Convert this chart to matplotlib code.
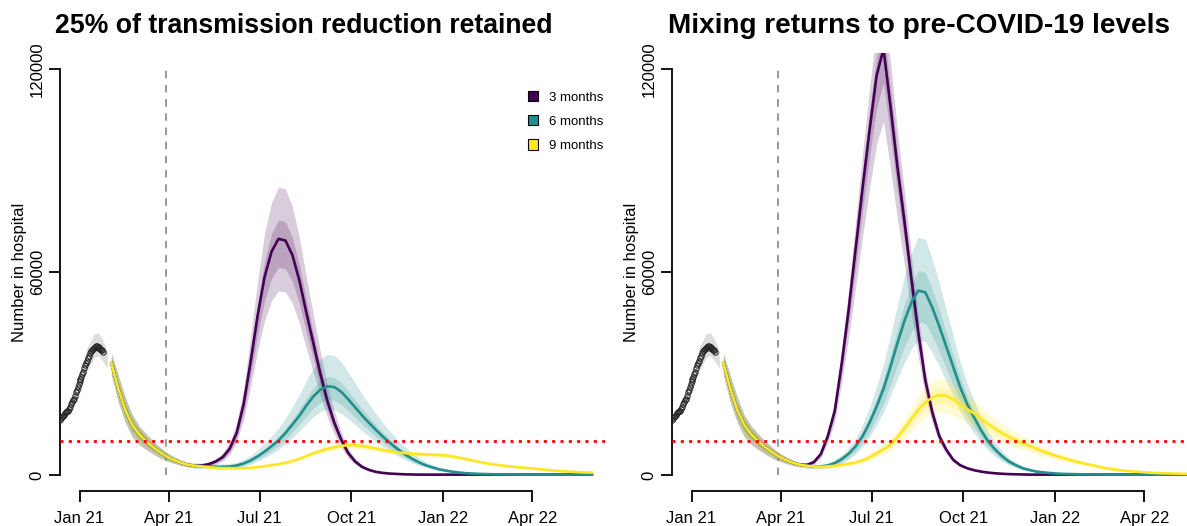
import matplotlib
matplotlib.use('Agg')
import matplotlib.pyplot as plt
import matplotlib.dates as mdates
from matplotlib.patches import Patch
import numpy as np
import pandas as pd

plt.rcParams['font.family'] = ['Liberation Sans', 'DejaVu Sans']

titles = ['25% of transmission reduction retained', 'Mixing returns to pre-COVID-19 levels']
scenarios = ['3 months', '6 months', '9 months']
colors = ['#440154', '#21908C', '#FDE725']
tick_dates = ['2021-01-01', '2021-04-01', '2021-07-01', '2021-10-01', '2022-01-01', '2022-04-01']
tick_labels = ['Jan 21', 'Apr 21', 'Jul 21', 'Oct 21', 'Jan 22', 'Apr 22']
y_ticks = [0, 60000, 120000]
threshold = 10000
step_date = '2021-03-29'

# observed patients in hospital (thousands), daily from 12 Dec 2020
obs_start = '2020-12-12'
obs_values = [16.3, 16.7, 17.0, 17.4, 17.8, 18.2, 18.6, 18.8, 19.0, 19.6,
              20.2, 20.9, 21.5, 22.2, 22.6, 23.4, 24.4, 25.2, 26.0, 26.9,
              27.8, 28.4, 29.0, 29.8, 30.5, 31.5, 32.4, 33.2, 33.7, 34.5,
              35.3, 36.0, 36.5, 36.8, 37.3, 37.5, 37.9, 38.2, 38.0, 37.6,
              37.8, 37.3, 37.0, 36.9, 36.4]

# model fit interval around the observed data (thousands)
fit_dates = ['2020-12-12', '2020-12-19', '2020-12-26', '2021-01-02', '2021-01-09',
             '2021-01-16', '2021-01-20', '2021-01-24', '2021-01-29']
fit_lower = [15.6, 17.6, 21.2, 26.0, 31.0, 34.8, 35.2, 33.8, 31.5]
fit_upper = [17.0, 19.8, 24.8, 31.0, 38.0, 41.8, 42.0, 40.2, 36.5]

# projections (thousands), weekly from 2 Feb 2021; first 12 weeks shared
proj_start = '2021-02-02'
common_start = [33.0, 25.5, 19.2, 14.8, 12.0, 10.0, 8.2, 6.7, 5.4, 4.4, 3.6, 3.0]
common_outer_lo = [29.5, 21.5, 15.5, 11.3, 9.0, 7.5, 6.2, 5.0, 4.1, 3.4, 2.8, 2.4]
common_inner_lo = [31.5, 23.5, 17.3, 13.0, 10.5, 8.7, 7.2, 5.9, 4.8, 3.9, 3.2, 2.7]
common_inner_hi = [34.5, 27.5, 21.0, 16.5, 13.4, 11.2, 9.2, 7.5, 6.0, 4.9, 4.0, 3.3]
common_outer_hi = [36.0, 29.5, 23.0, 17.8, 14.5, 12.2, 10.0, 8.2, 6.6, 5.4, 4.4, 3.7]

left_3m = [2.7, 2.8, 3.2, 4.0, 5.3, 7.8, 12.5, 21.0, 33.5, 47.0,
           58.5, 66.0, 69.8, 69.3, 65.0, 57.5, 48.0, 39.0, 30.0, 22.0,
           15.5, 10.5, 6.5, 4.0, 2.4, 1.5, 0.9, 0.6, 0.4, 0.3,
           0.2, 0.15, 0.1, 0.1, 0.1, 0.1, 0.1, 0.1, 0.1, 0.1,
           0.1, 0.1, 0.1, 0.1, 0.1, 0.1, 0.1, 0.1, 0.1, 0.1,
           0.1, 0.1, 0.1, 0.1, 0.1, 0.1, 0.1, 0.1]
left_6m = [2.7, 2.6, 2.5, 2.4, 2.4, 2.5, 2.8, 3.4, 4.3, 5.5,
           6.9, 8.5, 10.2, 12.4, 14.9, 17.5, 20.5, 23.2, 25.2, 26.2,
           26.0, 24.6, 22.4, 20.0, 17.6, 15.4, 13.3, 11.3, 9.5, 7.8,
           6.3, 5.0, 3.9, 3.0, 2.3, 1.7, 1.3, 0.95, 0.7, 0.5,
           0.4, 0.3, 0.25, 0.2, 0.15, 0.15, 0.12, 0.12, 0.1, 0.1,
           0.1, 0.1, 0.1, 0.1, 0.1, 0.1, 0.1, 0.1]
left_9m = [2.7, 2.5, 2.3, 2.1, 2.0, 2.0, 2.0, 2.0, 2.1, 2.3,
           2.6, 2.9, 3.2, 3.6, 4.1, 4.8, 5.6, 6.4, 7.1, 7.7,
           8.2, 8.6, 8.8, 8.8, 8.6, 8.2, 7.8, 7.4, 7.0, 6.7,
           6.5, 6.3, 6.2, 6.1, 6.0, 5.9, 5.8, 5.5, 5.1, 4.7,
           4.2, 3.8, 3.4, 3.1, 2.8, 2.6, 2.4, 2.2, 2.0, 1.8,
           1.6, 1.4, 1.2, 1.05, 0.95, 0.85, 0.75, 0.7]

right_3m = [3.0, 3.8, 6.2, 11.5, 19.0, 33.0, 49.0, 67.0, 85.0, 102.0,
            118.0, 126.0, 109.0, 91.0, 75.0, 58.0, 42.0, 28.0, 18.5, 11.5,
            7.5, 4.5, 2.9, 2.0, 1.4, 1.0, 0.7, 0.5, 0.35, 0.25,
            0.2, 0.15, 0.1, 0.1, 0.1, 0.1, 0.1, 0.1, 0.1, 0.1,
            0.1, 0.1, 0.1, 0.1, 0.1, 0.1, 0.1, 0.1, 0.1, 0.1,
            0.1, 0.1, 0.1, 0.1, 0.1, 0.1, 0.1, 0.1]
right_6m = [2.7, 2.5, 2.5, 2.8, 3.5, 4.7, 6.3, 8.5, 11.5, 15.5,
            20.2, 25.5, 32.0, 39.0, 45.5, 51.0, 54.5, 54.0, 49.5, 44.0,
            38.0, 32.0, 26.0, 21.0, 17.0, 13.2, 10.0, 7.6, 5.6, 4.0,
            2.9, 2.0, 1.45, 1.0, 0.75, 0.55, 0.4, 0.3, 0.25, 0.2,
            0.15, 0.15, 0.12, 0.12, 0.1, 0.1, 0.1, 0.1, 0.1, 0.1,
            0.1, 0.1, 0.1, 0.1, 0.1, 0.1, 0.1, 0.1]
right_9m = [2.7, 2.5, 2.4, 2.5, 2.7, 3.0, 3.3, 3.7, 4.3, 5.2,
            6.4, 7.6, 9.0, 11.2, 13.8, 16.6, 19.2, 21.4, 22.9, 23.6,
            23.4, 22.3, 20.8, 19.5, 18.2, 16.6, 15.0, 13.7, 12.4, 11.3,
            10.3, 9.4, 8.6, 7.7, 6.9, 6.2, 5.5, 4.9, 4.3, 3.8,
            3.3, 2.9, 2.4, 2.0, 1.7, 1.4, 1.2, 1.0, 0.85, 0.7,
            0.6, 0.5, 0.45, 0.4, 0.35, 0.3, 0.3, 0.25]

# band edges relative to the median after the shared weeks, read at each peak:
# outer low, inner low, inner high, outer high
left_bands = [(0.78, 0.88, 1.08, 1.22), (0.74, 0.85, 1.11, 1.36), (0.88, 0.94, 1.05, 1.12)]
right_bands = [(0.83, 0.92, 1.05, 1.12), (0.73, 0.83, 1.11, 1.29), (0.79, 0.90, 1.09, 1.21)]

W, H = 1187, 526
fig = plt.figure(figsize=(W / 100, H / 100), dpi=100)

jan1 = mdates.date2num(pd.Timestamp('2021-01-01'))
tick_nums = mdates.date2num(pd.to_datetime(tick_dates))
step_num = mdates.date2num(pd.Timestamp(step_date))
obs_x = pd.date_range(obs_start, periods=len(obs_values), freq='D')
fit_x = pd.to_datetime(fit_dates)
common_bands = [common_outer_lo, common_inner_lo, common_inner_hi, common_outer_hi]

panels = [
    (60, 55, 19.15, titles[0], [left_3m, left_6m, left_9m], left_bands, True),
    (672, 668, 20.1, titles[1], [right_3m, right_6m, right_9m], right_bands, False),
]

for x0, tx, tsize, title, series, bands, show_legend in panels:
    ax = fig.add_axes([x0 / W, 1 - 491.2 / H, 550 / W, (491.2 - 52.8) / H])
    ax.set_xlim(jan1 - 19.6, jan1 + 533.2)
    ax.set_ylim(-4800, 124800)

    ax.fill_between(fit_x, np.array(fit_lower) * 1000, np.array(fit_upper) * 1000,
                    color='#bdbdbd', alpha=0.5, lw=0)
    ax.plot(obs_x, np.array(obs_values) * 1000, 'o', mfc='none', mec='#222222',
            ms=3.8, mew=0.75, zorder=4)

    for vals, col, ratios in zip(series, colors, bands):
        y = np.array(common_start + vals) * 1000
        x = pd.date_range(proj_start, periods=len(y), freq='7D')
        edges = [np.array(cb + list(np.array(vals) * r)) * 1000
                 for cb, r in zip(common_bands, ratios)]
        ax.fill_between(x, edges[0], edges[3], color=col, alpha=0.2, lw=0)
        ax.fill_between(x, edges[1], edges[2], color=col, alpha=0.2, lw=0)
        ax.plot(x, y, color=col, lw=1.9)

    ax.axhline(threshold, color='red', lw=2, ls=(0, (1.1, 1.9)), zorder=5)
    ax.plot([step_num, step_num], [0, 120000], color='#888888', lw=1.2,
            ls=(0, (4.5, 4)), zorder=1)

    for side in ['top', 'right']:
        ax.spines[side].set_visible(False)
    ax.spines['left'].set_bounds(0, 120000)
    ax.spines['bottom'].set_bounds(tick_nums[0], tick_nums[-1])
    for side in ['left', 'bottom']:
        ax.spines[side].set_linewidth(1.3)

    ax.set_xticks(tick_nums)
    ax.set_xticklabels(tick_labels)
    ax.set_yticks(y_ticks)
    ax.set_yticklabels([str(v) for v in y_ticks], rotation=90, va='center')
    ax.tick_params(axis='both', labelsize=12, width=1.3, length=8, color='black')
    ax.tick_params(axis='y', pad=3)
    ax.tick_params(axis='x', pad=6)

    ax.set_ylabel('Number in hospital', fontsize=12)
    ax.yaxis.set_label_coords(-33 / 550, 0.5)

    fig.text(tx / W, 1 - 33 / H, title, fontsize=tsize, fontweight='bold',
             ha='left', va='baseline')

    if show_legend:
        handles = [Patch(facecolor=c, edgecolor='black', lw=0.8) for c in colors]
        ax.legend(handles, scenarios, loc='upper left',
                  bbox_to_anchor=(527.7 / W, 1 - 91 / H), bbox_transform=fig.transFigure,
                  frameon=False, fontsize=9.5, handlelength=0.8, handleheight=0.8,
                  handletextpad=0.8, labelspacing=0.88, borderpad=0, borderaxespad=0)

fig.savefig('out.png', dpi=100)
